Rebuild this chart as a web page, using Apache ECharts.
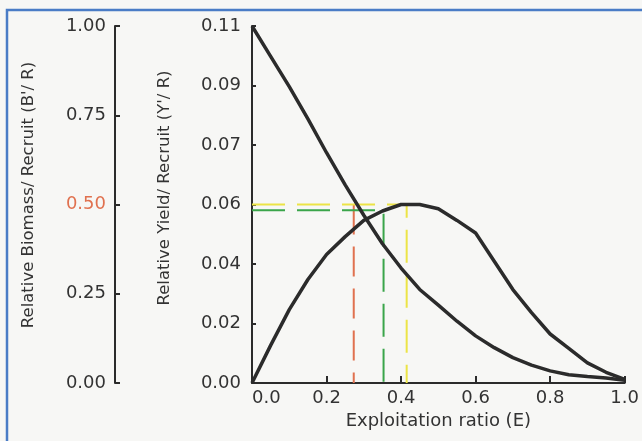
<!DOCTYPE html>
<html>
<head>
<meta charset="utf-8">
<script src="https://cdn.jsdelivr.net/npm/echarts@6/dist/echarts.min.js"></script>
<style>
html, body { margin: 0; padding: 0; background: #f7f7f5; }
#main { width: 642px; height: 441px; }
</style>
</head>
<body>
<div id="main"></div>
<script>
// exploitation ratio (E) where the curves were read
var eValues = [0, 0.05, 0.1, 0.15, 0.2, 0.25, 0.3, 0.35, 0.4, 0.45, 0.5,
  0.55, 0.6, 0.65, 0.7, 0.75, 0.8, 0.85, 0.9, 0.95, 1.0];
// relative biomass per recruit (B'/R), left axis
var biomass = [1.0, 0.915, 0.83, 0.74, 0.645, 0.555, 0.47, 0.39, 0.322, 0.262, 0.218,
  0.173, 0.132, 0.099, 0.071, 0.05, 0.034, 0.023, 0.018, 0.014, 0.008];
// relative yield per recruit (Y'/R), inner axis
var yieldVals = [0, 0.0116, 0.0226, 0.0319, 0.0396, 0.0451, 0.0501, 0.0530, 0.0550, 0.0550, 0.0537,
  0.0501, 0.0462, 0.0375, 0.0288, 0.0217, 0.0151, 0.0107, 0.0062, 0.0033, 0.0011];

// reference lines (E50, E0.1, Emax)
var orangeRef = [[0.273, 0.5], [0.273, 0]];          // on biomass axis
var greenRef = [[0, 0.0532], [0.353, 0.0532], [0.353, 0]];
var yellowRef = [[0, 0.055], [0.415, 0.055], [0.415, 0]];

var biomassTicks = ['0.00', '0.25', '0.50', '0.75', '1.00'];
var yieldTicks = ['0.00', '0.02', '0.04', '0.06', '0.07', '0.09', '0.11'];
var yieldMax = 0.11;
var yieldStep = yieldMax / 6;

var ink = '#2b2b2b';
var txt = '#333333';
var font = 'DejaVu Sans';

var myChart = echarts.init(document.getElementById('main'));

myChart.setOption({
  backgroundColor: '#f7f7f5',
  animation: false,
  grid: { left: 252, right: 15, top: 26, bottom: 58 },
  xAxis: {
    type: 'value',
    min: 0,
    max: 1,
    interval: 0.2,
    name: 'Exploitation ratio (E)',
    nameLocation: 'middle',
    nameGap: 28,
    nameTextStyle: { fontFamily: font, fontSize: 18, color: txt },
    axisLine: { onZero: false, lineStyle: { color: ink, width: 2 } },
    axisTick: { inside: true, length: 7, lineStyle: { color: ink, width: 2 } },
    splitLine: { show: false },
    axisLabel: {
      fontFamily: font, fontSize: 18, color: txt, margin: 6,
      alignMinLabel: 'left',
      formatter: function (v) { return v.toFixed(1); }
    }
  },
  yAxis: [{
    type: 'value',
    position: 'left',
    offset: 137,
    min: 0,
    max: 1,
    interval: 0.25,
    axisLine: { show: true, onZero: false, lineStyle: { color: ink, width: 2 } },
    axisTick: { show: true, inside: true, length: 5, lineStyle: { color: ink, width: 2 } },
    splitLine: { show: false },
    axisLabel: {
      fontFamily: font, fontSize: 18, margin: 9,
      color: function (v) { return Math.abs(v - 0.5) < 1e-6 ? '#e0714f' : txt; },
      formatter: function (v) { return biomassTicks[Math.round(v / 0.25)]; }
    }
  }, {
    type: 'value',
    position: 'left',
    offset: 0,
    min: 0,
    max: yieldMax,
    interval: yieldStep,
    axisLine: { show: true, onZero: false, lineStyle: { color: ink, width: 2 } },
    axisTick: { show: true, inside: true, length: 4, lineStyle: { color: ink, width: 2 } },
    splitLine: { show: false },
    axisLabel: {
      fontFamily: font, fontSize: 18, color: txt, margin: 11,
      formatter: function (v) { return yieldTicks[Math.round(v / yieldStep)] || ''; }
    }
  }],
  graphic: [{
    type: 'rect',
    z: -1,
    shape: { x: 7, y: 10, width: 700, height: 500 },
    style: { fill: 'none', stroke: '#4a7cc6', lineWidth: 2.5 }
  }, {
    type: 'text',
    x: 29, y: 195,
    rotation: Math.PI / 2,
    style: {
      text: 'Relative Biomass/ Recruit (B\'/ R)',
      font: '16.5px "DejaVu Sans"', fill: txt,
      textAlign: 'center', textVerticalAlign: 'middle', align: 'center', verticalAlign: 'middle'
    }
  }, {
    type: 'text',
    x: 165, y: 188,
    rotation: Math.PI / 2,
    style: {
      text: 'Relative Yield/ Recruit (Y\'/ R)',
      font: '16.5px "DejaVu Sans"', fill: txt,
      textAlign: 'center', textVerticalAlign: 'middle', align: 'center', verticalAlign: 'middle'
    }
  }],
  series: [{
    name: 'E50',
    type: 'line',
    yAxisIndex: 0,
    data: orangeRef,
    showSymbol: false,
    lineStyle: { color: '#e0714f', width: 2, type: [30, 12] }
  }, {
    name: 'E0.1',
    type: 'line',
    yAxisIndex: 1,
    data: greenRef,
    showSymbol: false,
    lineStyle: { color: '#3aa54a', width: 2, type: [33, 12] }
  }, {
    name: 'Emax',
    type: 'line',
    yAxisIndex: 1,
    data: yellowRef,
    showSymbol: false,
    lineStyle: { color: '#ece446', width: 2, type: [33, 12] }
  }, {
    name: "B'/R",
    type: 'line',
    yAxisIndex: 0,
    data: eValues.map(function (e, i) { return [e, biomass[i]]; }),
    showSymbol: false,
    lineStyle: { color: ink, width: 3.5 }
  }, {
    name: "Y'/R",
    type: 'line',
    yAxisIndex: 1,
    data: eValues.map(function (e, i) { return [e, yieldVals[i]]; }),
    showSymbol: false,
    lineStyle: { color: ink, width: 3.5 }
  }]
});
</script>
</body>
</html>
